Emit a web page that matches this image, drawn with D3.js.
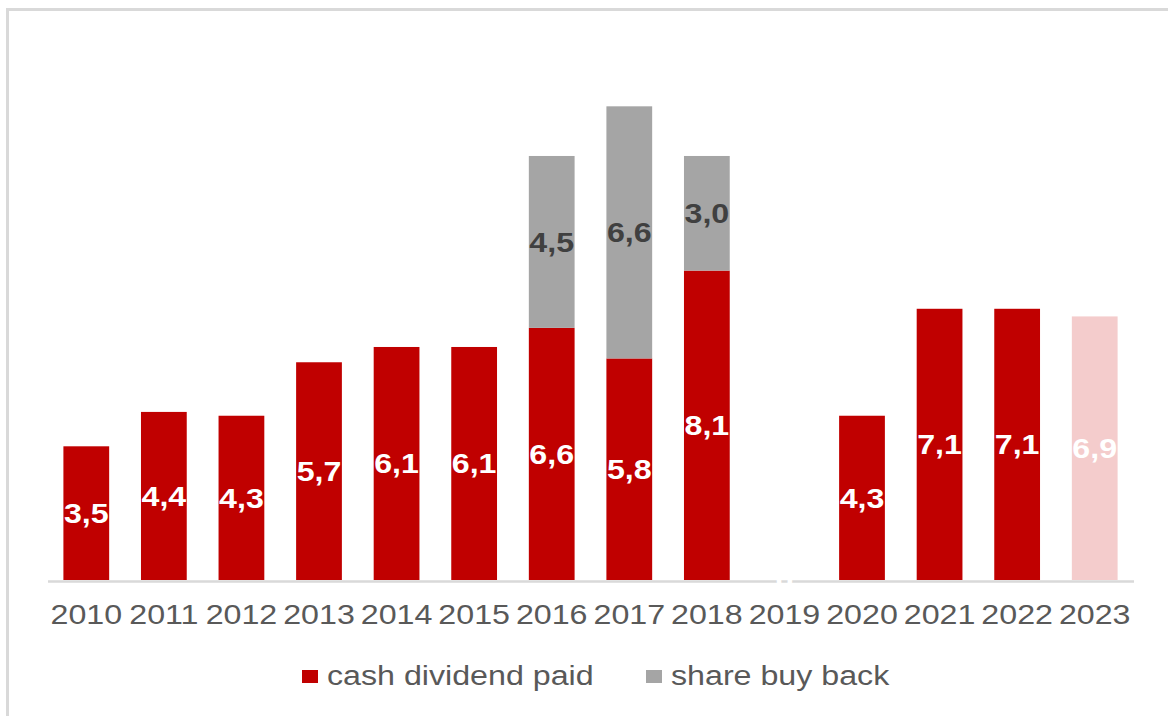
<!DOCTYPE html>
<html>
<head>
<meta charset="utf-8">
<script src="https://cdn.jsdelivr.net/npm/d3@7"></script>
<style>
  body { margin: 0; background: #fff; }
  text { font-family: "Liberation Sans", Arial, sans-serif; }
</style>
</head>
<body>
<div id="chart"></div>
<script>
// data
var years = ["2010","2011","2012","2013","2014","2015","2016","2017","2018","2019","2020","2021","2022","2023"]
var dividend = [3.5, 4.4, 4.3, 5.7, 6.1, 6.1, 6.6, 5.8, 8.1, 0, 4.3, 7.1, 7.1, 6.9]
var buyback = [0, 0, 0, 0, 0, 0, 4.5, 6.6, 3.0, 0, 0, 0, 0, 0]
var projected = ["2023"]
var seriesNames = ["cash dividend paid", "share buy back"]

var red = "#c00000", pink = "#f4cccc", grey = "#a5a5a5"
var stretch = "scale(1.15,1)"   // the picture's text is a bit wide

var screen = {width: 1168, height: 716}
var svg = d3.select("#chart").append("svg")
  .attr("width", screen.width)
  .attr("height", screen.height)

// frame
svg.append("rect")
  .attr("x", 7.5).attr("y", 9.5)
  .attr("width", 1200).attr("height", 760)
  .attr("fill", "none")
  .attr("stroke", "#d9d9d9")
  .attr("stroke-width", 3)

var x = d3.scaleBand()
  .domain(years)
  .range([47.5, 1133.5])
  .paddingInner(0.41)
  .paddingOuter(0.205)

var y = d3.scaleLinear()
  .domain([0, 14])
  .range([580, 45.2])

var rows = years.map(function(yr, i) {
  return {year: yr, div: dividend[i], buy: buyback[i]}
})

var fmt = function(v) {
  return v === 0 ? "0" : d3.format(".1f")(v).replace(".", ",")
}

// bars
svg.append("g").selectAll("rect")
  .data(rows.filter(function(d) { return d.div > 0 }))
  .enter().append("rect")
  .attr("x", function(d) { return x(d.year) })
  .attr("width", x.bandwidth())
  .attr("y", function(d) { return y(d.div) })
  .attr("height", function(d) { return y(0) - y(d.div) })
  .attr("fill", function(d) { return projected.indexOf(d.year) >= 0 ? pink : red })

svg.append("g").selectAll("rect")
  .data(rows.filter(function(d) { return d.buy > 0 }))
  .enter().append("rect")
  .attr("x", function(d) { return x(d.year) })
  .attr("width", x.bandwidth())
  .attr("y", function(d) { return y(d.div + d.buy) })
  .attr("height", function(d) { return y(d.div) - y(d.div + d.buy) })
  .attr("fill", grey)

// axis line
var xAxis = d3.axisBottom(x).tickSize(0).tickPadding(0)
var axisG = svg.append("g")
  .attr("transform", "translate(0,581)")
  .call(xAxis)
axisG.select(".domain").attr("stroke", "#d9d9d9").attr("stroke-width", 2.5)
axisG.selectAll(".tick text")
  .attr("y", 0).attr("dy", 0)
  .attr("transform", "translate(0,43) " + stretch)
  .attr("font-size", 28)
  .attr("fill", "#595959")
  .style("font-family", "Liberation Sans, Arial, sans-serif")

// value labels
svg.append("g").selectAll("text")
  .data(rows)
  .enter().append("text")
  .attr("transform", function(d) {
    var cx = x(d.year) + x.bandwidth() / 2
    var cy = (y(0) + y(d.div)) / 2 + 10
    return "translate(" + cx + "," + cy + ") " + stretch
  })
  .attr("text-anchor", "middle")
  .attr("font-size", 28)
  .attr("font-weight", "bold")
  .attr("fill", "#fff")
  .text(function(d) { return fmt(d.div) })

svg.append("g").selectAll("text")
  .data(rows.filter(function(d) { return d.buy > 0 }))
  .enter().append("text")
  .attr("transform", function(d) {
    var cx = x(d.year) + x.bandwidth() / 2
    var cy = (y(d.div) + y(d.div + d.buy)) / 2 + 10
    return "translate(" + cx + "," + cy + ") " + stretch
  })
  .attr("text-anchor", "middle")
  .attr("font-size", 28)
  .attr("font-weight", "bold")
  .attr("fill", "#404040")
  .text(function(d) { return fmt(d.buy) })

// legend
var legendPos = [302, 646]
var legend = svg.append("g").selectAll("g")
  .data(seriesNames)
  .enter().append("g")
  .attr("transform", function(d, i) { return "translate(" + legendPos[i] + ",670)" })
legend.append("rect")
  .attr("width", 16).attr("height", 13)
  .attr("fill", function(d, i) { return i === 0 ? red : grey })
legend.append("text")
  .attr("transform", "translate(25,15) " + stretch)
  .attr("font-size", 28)
  .attr("fill", "#595959")
  .text(function(d) { return d })
</script>
</body>
</html>
